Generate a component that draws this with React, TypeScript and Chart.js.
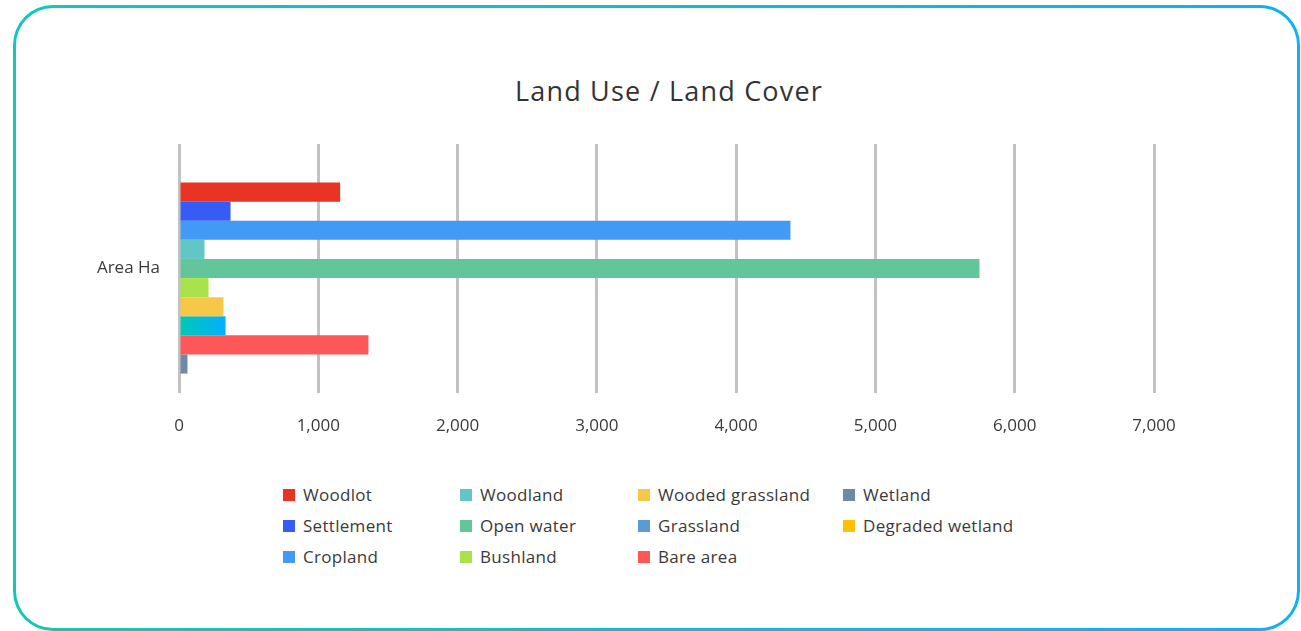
import React, { useEffect, useRef } from 'react';
import { Chart, registerables } from 'chart.js';

Chart.register(...registerables);

// ---- data ----
const categories = ['Area Ha'];
// bar order from top to bottom (first slot is empty: Degraded wetland has no value)
const seriesNames = [
  'Degraded wetland',
  'Woodlot',
  'Settlement',
  'Cropland',
  'Woodland',
  'Open water',
  'Bushland',
  'Wooded grassland',
  'Grassland',
  'Bare area',
  'Wetland',
];
const seriesValues: (number | null)[] = [null, 1157, 370, 4390, 183, 5747, 212, 319, 334, 1360, 61];
const seriesColors = [
  '#ffc000',
  '#e93323',
  '#355cf5',
  '#4399f6',
  '#63c6c6',
  '#63c59a',
  '#a8e34b',
  '#f7c748',
  '#5b9bd5',
  '#fe5757',
  '#6d8aa8',
];
const gradientSeries = 'Grassland';
const gradientStops = ['#00c9b1', '#00b1ff'];
const legendColumns = [
  ['Woodlot', 'Settlement', 'Cropland'],
  ['Woodland', 'Open water', 'Bushland'],
  ['Wooded grassland', 'Grassland', 'Bare area'],
  ['Wetland', 'Degraded wetland'],
];
const xMin = 0;
const xMax = 7000;
const xStep = 1000;
const titleText = 'Land Use / Land Cover';

// ---- layout ----
const CANVAS_LEFT = 20;
const CANVAS_TOP = 100;
const CANVAS_W = 1260;
const CANVAS_H = 360;
const legendColX = [283, 460, 638, 843];
const legendRowY = [489, 520, 551];
const FONT = '"Open Sans", "Noto Sans", sans-serif';
const TEXT = '#3a3a3a';

export default function App() {
  const ref = useRef<HTMLCanvasElement | null>(null);

  useEffect(() => {
    if (!ref.current) return;
    const datasets = seriesNames.map((name, i) => ({
      label: name,
      data: [seriesValues[i]],
      backgroundColor:
        name === gradientSeries
          ? (ctx: any) => {
              const chart = ctx.chart;
              const xs = chart.scales && chart.scales.x;
              const v = seriesValues[i];
              if (!xs || !chart.chartArea || v == null) return seriesColors[i];
              const x0 = xs.getPixelForValue(0);
              const x1 = xs.getPixelForValue(v);
              const g = chart.ctx.createLinearGradient(x0, 0, x1, 0);
              g.addColorStop(0, gradientStops[0]);
              g.addColorStop(1, gradientStops[1]);
              return g;
            }
          : seriesColors[i],
      borderWidth: 0,
      barPercentage: 1,
      categoryPercentage: 0.844,
    }));

    const chart = new Chart(ref.current, {
      type: 'bar',
      data: { labels: categories, datasets },
      options: {
        indexAxis: 'y',
        animation: false,
        responsive: false,
        locale: 'en-US',
        layout: { padding: { top: 44, left: 0, right: 126, bottom: 27 } },
        plugins: {
          legend: { display: false },
          title: { display: false },
          tooltip: { enabled: false },
        },
        scales: {
          x: {
            type: 'linear',
            min: xMin,
            max: xMax,
            position: 'bottom',
            ticks: {
              stepSize: xStep,
              color: TEXT,
              font: { family: FONT, size: 17 },
              padding: 23,
            },
            grid: { color: '#c2c2c2', lineWidth: 3, drawTicks: false },
            border: { display: false },
            afterFit: (s: any) => {
              s.height = 40;
            },
          },
          y: {
            type: 'category',
            ticks: {
              color: TEXT,
              font: { family: FONT, size: 17 },
              padding: 11,
            },
            grid: { display: false },
            border: { display: false },
            afterFit: (s: any) => {
              s.width = 159;
            },
          },
        },
      },
    } as any);
    return () => chart.destroy();
  }, []);

  const legendItems: React.ReactNode[] = [];
  legendColumns.forEach((col, ci) => {
    col.forEach((name, ri) => {
      const idx = seriesNames.indexOf(name);
      const x = legendColX[ci];
      const y = legendRowY[ri];
      legendItems.push(
        <React.Fragment key={name}>
          <div
            style={{
              position: 'absolute',
              left: x,
              top: y,
              width: 12,
              height: 12,
              background: seriesColors[idx],
            }}
          />
          <div
            style={{
              position: 'absolute',
              left: x + 20,
              top: y - 3,
              fontFamily: FONT,
              fontSize: 17,
              lineHeight: '17px',
              color: TEXT,
              whiteSpace: 'nowrap',
              letterSpacing: '0.3px',
            }}
          >
            {name}
          </div>
        </React.Fragment>
      );
    });
  });

  return (
    <div>
      <div
        style={{
          position: 'absolute',
          left: 13,
          top: 5,
          width: 1287,
          height: 626,
          boxSizing: 'border-box',
          borderRadius: 40,
          padding: 3,
          background: 'linear-gradient(90deg, #10c9b2, #0ab2f6)',
        }}
      >
        <div style={{ width: '100%', height: '100%', background: '#fff', borderRadius: 37 }} />
      </div>
      <div
        style={{
          position: 'absolute',
          left: 669,
          top: 77,
          transform: 'translateX(-50%)',
          fontFamily: FONT,
          fontSize: 27,
          lineHeight: '27px',
          color: '#333',
          whiteSpace: 'nowrap',
          letterSpacing: '1.2px',
        }}
      >
        {titleText}
      </div>
      <canvas
        ref={ref}
        width={CANVAS_W}
        height={CANVAS_H}
        style={{
          position: 'absolute',
          left: CANVAS_LEFT,
          top: CANVAS_TOP,
          width: CANVAS_W,
          height: CANVAS_H,
        }}
      />
      {legendItems}
    </div>
  );
}
